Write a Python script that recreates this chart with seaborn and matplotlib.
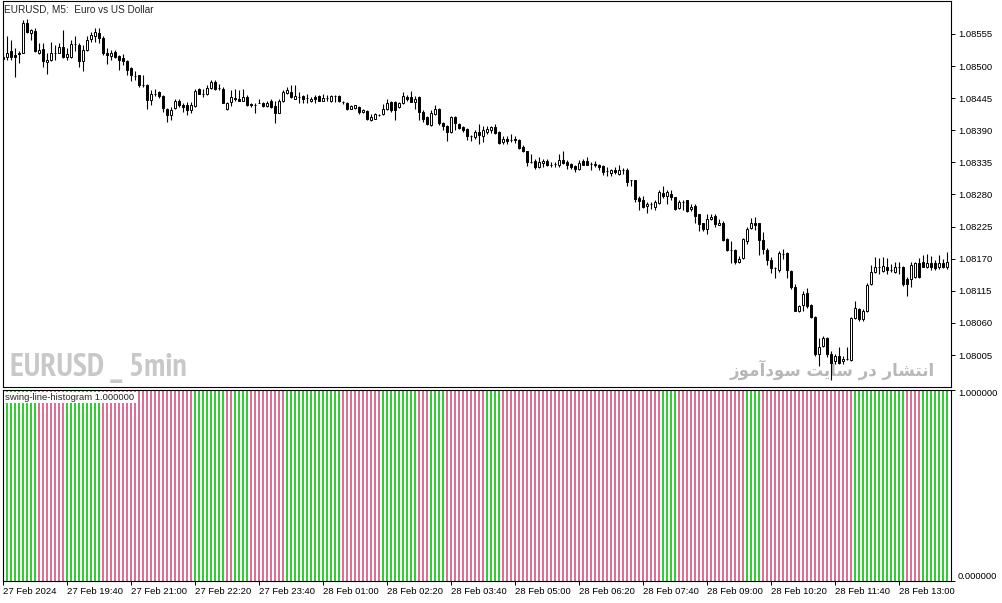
import numpy as np
import pandas as pd
import seaborn as sns
import matplotlib.pyplot as plt
from matplotlib import font_manager

# EURUSD M5 candles, in points (0.00001) above 1.08000
opens = [516, 516, 525, 519, 522, 523, 573, 556, 560, 523, 529, 507, 511, 522, 523, 532, 515, 516, 538, 536,
         508, 528, 546, 552, 556, 548, 522, 518, 524, 518, 513, 509, 496, 483, 484, 467, 468, 442, 453, 455,
         449, 427, 416, 429, 441, 434, 433, 424, 432, 460, 453, 452, 463, 473, 463, 461, 427, 439, 446, 444,
         441, 447, 435, 434, 437, 437, 431, 441, 432, 420, 440, 454, 456, 444, 447, 448, 446, 441, 447, 448,
         441, 446, 441, 449, 449, 439, 437, 427, 428, 430, 421, 423, 408, 410, 417, 418, 426, 439, 438, 430,
         437, 447, 447, 439, 447, 422, 413, 399, 418, 426, 403, 398, 387, 413, 401, 395, 392, 380, 378, 387,
         380, 387, 390, 396, 387, 370, 375, 373, 375, 374, 361, 354, 335, 338, 327, 334, 338, 331, 333, 330,
         339, 335, 333, 328, 324, 337, 337, 333, 333, 330, 328, 320, 316, 322, 315, 322, 322, 304, 304, 274,
         271, 261, 263, 259, 265, 282, 277, 281, 275, 257, 268, 270, 255, 261, 246, 231, 221, 238, 244, 228,
         232, 204, 185, 185, 165, 171, 201, 223, 232, 231, 202, 185, 168, 154, 150, 178, 179, 149, 121, 81,
         91, 112, 91, 70, 6, 20, 34, 7, -5, 3, -5, -2, -4, 69, 84, 66, 80, 126, 147, 155,
         149, 156, 151, 148, 155, 156, 135, 135, 138, 162, 165, 155, 162, 162, 155, 162, 156]
highs = [519, 551, 545, 531, 525, 579, 581, 563, 565, 539, 539, 522, 541, 536, 539, 562, 531, 545, 552, 539,
         536, 551, 559, 565, 566, 551, 531, 528, 528, 519, 520, 511, 499, 491, 485, 485, 469, 459, 461, 457,
         450, 429, 430, 444, 444, 436, 439, 439, 460, 463, 461, 467, 476, 476, 469, 464, 439, 459, 461, 459,
         461, 450, 437, 436, 444, 439, 441, 444, 441, 444, 459, 464, 467, 467, 456, 450, 452, 447, 450, 450,
         453, 450, 450, 451, 450, 441, 438, 434, 434, 431, 426, 425, 418, 420, 418, 435, 443, 441, 441, 439,
         456, 451, 457, 449, 449, 424, 414, 424, 434, 428, 404, 399, 414, 414, 403, 397, 394, 382, 391, 401,
         398, 398, 398, 400, 388, 381, 381, 384, 380, 375, 364, 354, 349, 341, 345, 341, 340, 335, 335, 350,
         355, 339, 334, 330, 339, 341, 345, 335, 337, 333, 330, 327, 324, 327, 330, 326, 326, 305, 305, 278,
         278, 268, 267, 270, 287, 294, 287, 288, 276, 271, 271, 271, 264, 263, 247, 232, 247, 247, 246, 238,
         234, 205, 201, 187, 175, 205, 224, 240, 241, 232, 215, 189, 173, 156, 183, 187, 181, 151, 126, 91,
         114, 120, 92, 72, 35, 38, 36, 12, 7, 18, 3, 18, 70, 97, 86, 84, 128, 160, 173, 171,
         173, 172, 161, 164, 165, 158, 138, 164, 165, 171, 177, 178, 175, 168, 177, 170, 181]
lows = [510, 511, 511, 481, 505, 522, 556, 545, 524, 521, 499, 486, 508, 511, 522, 513, 511, 513, 525, 499,
        492, 525, 542, 541, 539, 519, 503, 511, 513, 493, 502, 485, 475, 476, 465, 465, 426, 433, 448, 445,
        421, 404, 408, 427, 430, 421, 416, 419, 430, 452, 447, 450, 461, 459, 459, 436, 425, 431, 441, 440,
        440, 432, 430, 420, 436, 430, 430, 429, 402, 419, 439, 452, 446, 443, 437, 437, 436, 439, 437, 440,
        440, 441, 438, 438, 439, 435, 424, 426, 426, 418, 420, 407, 406, 410, 414, 417, 424, 422, 407, 428,
        435, 441, 438, 426, 407, 405, 399, 398, 417, 399, 390, 372, 386, 390, 392, 387, 374, 371, 375, 367,
        370, 384, 385, 384, 367, 366, 367, 370, 368, 358, 353, 328, 334, 324, 326, 327, 329, 327, 327, 327,
        333, 324, 324, 318, 322, 330, 330, 322, 327, 322, 314, 312, 312, 315, 314, 315, 294, 294, 268, 253,
        257, 248, 255, 254, 264, 274, 263, 271, 254, 255, 254, 250, 251, 231, 218, 218, 212, 236, 224, 227,
        200, 183, 162, 161, 162, 169, 196, 221, 219, 177, 178, 160, 146, 137, 148, 169, 137, 118, 80, 78,
        80, 86, 69, 3, -14, 19, 2, -37, -11, -10, -10, -4, -6, 66, 63, 63, 78, 125, 145, 144,
        148, 144, 148, 145, 144, 124, 106, 121, 137, 137, 155, 154, 151, 151, 152, 154, 152]
closes = [512, 523, 515, 516, 521, 573, 558, 561, 526, 528, 508, 511, 523, 522, 532, 516, 521, 538, 538, 508,
          528, 545, 554, 558, 548, 522, 519, 522, 516, 511, 508, 493, 485, 483, 468, 467, 442, 453, 453, 448,
          429, 416, 425, 440, 434, 430, 424, 433, 457, 453, 452, 463, 472, 461, 463, 437, 436, 447, 443, 441,
          447, 433, 433, 434, 437, 431, 437, 430, 420, 440, 456, 459, 447, 448, 447, 444, 446, 444, 443, 441,
          445, 446, 449, 449, 441, 439, 426, 431, 433, 421, 425, 409, 413, 418, 417, 427, 437, 424, 424, 437,
          448, 444, 439, 444, 422, 410, 401, 420, 426, 403, 398, 387, 413, 403, 394, 390, 381, 380, 387, 382,
          390, 392, 396, 385, 368, 375, 371, 373, 373, 360, 354, 335, 335, 327, 335, 337, 330, 331, 333, 339,
          334, 330, 327, 324, 334, 331, 331, 333, 330, 327, 318, 320, 322, 318, 322, 322, 301, 304, 272, 269,
          259, 263, 263, 268, 284, 277, 284, 275, 255, 268, 268, 251, 259, 244, 230, 221, 238, 242, 230, 232,
          202, 185, 185, 164, 169, 204, 221, 231, 228, 202, 187, 167, 154, 154, 179, 178, 151, 121, 81, 89,
          110, 89, 70, 6, 19, 34, 6, -8, 3, -8, -1, -2, 69, 86, 66, 80, 125, 147, 155, 155,
          158, 151, 151, 155, 156, 126, 126, 160, 162, 139, 156, 162, 155, 154, 162, 156, 165]

# swing-line-histogram: alternating run lengths, first run is green (up)
swing_runs = [9, 7, 9, 23, 8, 2, 4, 9, 14, 10, 9, 3, 4, 10, 4, 40, 4, 17, 4, 23, 13, 4, 7]

price_ticks = [1.08005, 1.08060, 1.08115, 1.08170, 1.08225, 1.08280,
               1.08335, 1.08390, 1.08445, 1.08500, 1.08555]
start_time = '2024-02-27 18:20'
label_every = 16

base = 1.08
df = pd.DataFrame({'open': base + np.array(opens) / 1e5,
                   'high': base + np.array(highs) / 1e5,
                   'low': base + np.array(lows) / 1e5,
                   'close': base + np.array(closes) / 1e5})
df['bar'] = np.arange(len(df))
df['time'] = pd.date_range(start_time, periods=len(df), freq='5min')

flags = []
for k, n in enumerate(swing_runs):
    flags += ['up' if k % 2 == 0 else 'down'] * n
hist = pd.DataFrame({'bar': df['bar'], 'value': 1.0, 'swing': flags})

sns.set_style('white')
plt.rcParams['font.family'] = ['Liberation Sans', 'DejaVu Sans']

# watermark font: a narrow bold face if one is installed
fonts = font_manager.fontManager.ttflist
narrow = [f for f in fonts if 'Narrow' in f.name and str(f.weight) in ('700', 'bold')]
cond = [f for f in fonts if ('Condensed' in f.name or f.stretch in ('condensed', 'semi-condensed'))
        and str(f.weight) in ('700', 'bold')]
if narrow:
    wm_font = font_manager.FontProperties(fname=narrow[0].fname, size=23)
elif cond:
    wm_font = font_manager.FontProperties(fname=cond[0].fname, size=17)
else:
    wm_font = font_manager.FontProperties(family='Liberation Sans', weight='bold', size=16.5)

W, H = 1003, 603
fig = plt.figure(figsize=(W / 100, H / 100), dpi=100)
ax = fig.add_axes([3 / W, 1 - 387 / H, 948 / W, 386 / H])
ax2 = fig.add_axes([3 / W, 1 - 581 / H, 948 / W, 191.5 / H])

# candles
bull = df['close'] >= df['open']
ax.vlines(df['bar'], df['low'], df['high'], color='black', linewidth=0.8, zorder=3)
ax.bar(df['bar'], (df['close'] - df['open']).abs(), bottom=df[['open', 'close']].min(axis=1),
       width=0.55, color=np.where(bull, 'white', 'black'), edgecolor='black', linewidth=0.7, zorder=4)

ax.set_xlim(0, 237)
ax.set_ylim(1.079502, 1.086115)
ax.yaxis.tick_right()
ax.set_yticks(price_ticks)
ax.set_yticklabels([f'{p:.5f}' for p in price_ticks])
ax.tick_params(axis='y', right=True, length=3, width=0.7, pad=2, labelsize=6.8, colors='black')
ax.tick_params(axis='x', bottom=False, labelbottom=False)

ax.text(1 / 948, 1 - 8 / 386, 'EURUSD, M5:  Euro vs US Dollar', transform=ax.transAxes,
        fontsize=7.2, va='center', ha='left')
ax.text(7 / 948, 1 - 367 / 386, 'EURUSD _ 5min', transform=ax.transAxes,
        fontproperties=wm_font, color='#c8c8c8', va='center', ha='left', zorder=1)
persian = ('\ufeaf\ufeee\ufee3\ufe81\ufea9\ufeee\ufeb3 \ufe96\ufef3\ufe8e\ufeb3 '
           '\ufead\ufea9 \ufead\ufe8e\ufeb8\ufe98\ufee7\ufe8d')
ax.text(932 / 948, 1 - 369 / 386, persian, transform=ax.transAxes, fontsize=12,
        fontweight='bold', color='#b8b8b8', va='center', ha='right',
        family=['DejaVu Sans'], zorder=1)

# swing histogram
sns.barplot(data=hist, x='bar', y='value', hue='swing', native_scale=True, dodge=False,
            palette={'up': '#32cd32', 'down': '#db7093'}, width=0.55, saturation=1,
            linewidth=0, errorbar=None, legend=False, ax=ax2)
ax2.set_xlim(0, 237)
ax2.set_ylim(0, 1)
ax2.set_xlabel('')
ax2.set_ylabel('')
ax2.yaxis.tick_right()
ax2.set_yticks([0, 1])
ax2.set_yticklabels(['0.000000', '1.000000'])
ax2.tick_params(axis='y', right=True, length=3, width=0.7, pad=2, labelsize=6.8, colors='black')
for lab, va in zip(ax2.get_yticklabels(), ['bottom', 'top']):
    lab.set_va(va)

tick_bars = df['bar'][::label_every]
tick_labels = [df['time'][0].strftime('%d %b %Y')] + \
              [t.strftime('%d %b %H:%M') for t in df['time'][::label_every][1:]]
ax2.set_xticks(tick_bars)
ax2.set_xticklabels(tick_labels, ha='left')
ax2.tick_params(axis='x', bottom=True, length=3, width=0.7, pad=1, labelsize=6.8, colors='black')
ax2.text(2 / 948, 1 - 8 / 191.5, 'swing-line-histogram 1.000000', transform=ax2.transAxes,
         fontsize=6.8, va='center', ha='left', zorder=5,
         bbox=dict(boxstyle='square,pad=0.15', facecolor='white', edgecolor='none'))

for a in (ax, ax2):
    for s in a.spines.values():
        s.set_visible(True)
        s.set_color('black')
        s.set_linewidth(0.8)

fig.savefig('out.png', dpi=100)
